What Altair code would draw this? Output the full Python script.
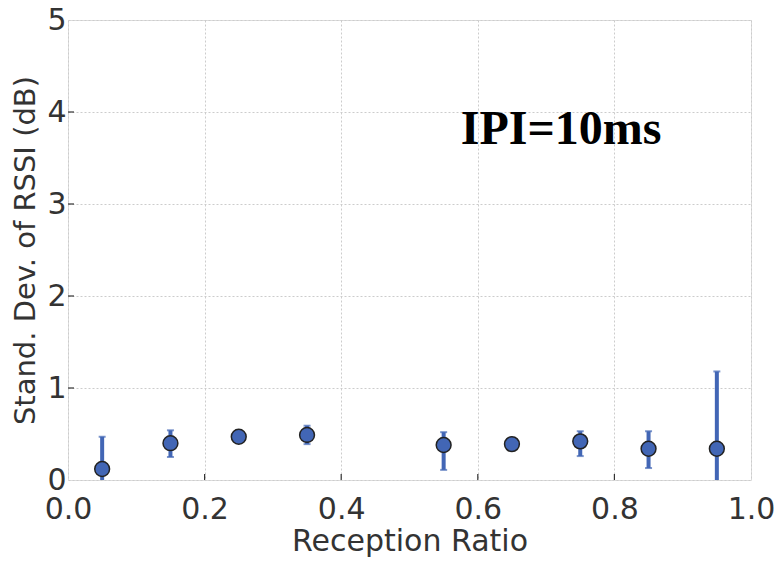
import altair as alt
import pandas as pd

# Reception-ratio bins and the RSSI standard deviation measured in each
ratio = [0.05, 0.15, 0.25, 0.35, 0.55, 0.65, 0.75, 0.85, 0.95]
std_mean = [0.12, 0.40, 0.47, 0.49, 0.38, 0.39, 0.42, 0.34, 0.34]
err_low = [-0.23, 0.25, 0.43, 0.39, 0.11, 0.35, 0.26, 0.13, -0.50]
err_high = [0.47, 0.54, 0.51, 0.59, 0.52, 0.43, 0.53, 0.53, 1.18]

x_ticks = [0.0, 0.2, 0.4, 0.6, 0.8, 1.0]
y_ticks = [0, 1, 2, 3, 4, 5]

df = pd.DataFrame({"ratio": ratio, "std": std_mean, "lo": err_low, "hi": err_high})
xt = pd.DataFrame({"t": x_ticks[1:-1]})
yt = pd.DataFrame({"t": y_ticks[1:-1]})

BLUE = "#4266b5"
INK = "#333333"

x_scale = alt.Scale(domain=[0, 1], nice=False)
y_scale = alt.Scale(domain=[0, 5], nice=False)

x_enc = alt.X(
    "ratio:Q", scale=x_scale, title="Reception Ratio",
    axis=alt.Axis(values=x_ticks, format=".1f", grid=True, gridDash=[2, 2],
                  gridColor="#cccccc", ticks=False, domain=False, labelFlush=False,
                  labelFontSize=30, labelColor=INK, labelPadding=14,
                  titleFontSize=30, titleColor=INK, titleFontWeight="normal",
                  titlePadding=2, labelFont="DejaVu Sans", titleFont="DejaVu Sans"),
)
y_axis = alt.Axis(values=y_ticks, format="d", grid=True, gridDash=[2, 2],
                  gridColor="#cccccc", ticks=False, domain=False, labelFlush=False,
                  labelFontSize=30, labelColor=INK, labelPadding=2,
                  titleFontSize=29, titleColor=INK, titleFontWeight="normal",
                  titlePadding=6, labelFont="DejaVu Sans", titleFont="DejaVu Sans")

base = alt.Chart(df)

bars = base.mark_rule(color=BLUE, strokeWidth=4, clip=True).encode(
    x=x_enc,
    y=alt.Y("lo:Q", scale=y_scale, title="Stand. Dev. of RSSI (dB)", axis=y_axis),
    y2="hi:Q",
)
cap_hi = base.mark_tick(color=BLUE, orient="horizontal", size=7, thickness=2, clip=True).encode(
    x="ratio:Q", y="hi:Q")
cap_lo = base.mark_tick(color=BLUE, orient="horizontal", size=7, thickness=2, clip=True).encode(
    x="ratio:Q", y="lo:Q")
dots = base.mark_point(filled=True, shape="circle", size=220, color=BLUE,
                       stroke="#222222", strokeWidth=1.5, opacity=1).encode(
    x="ratio:Q", y="std:Q")

# inward tick marks on the bottom and left spines
xtick = alt.Chart(xt).mark_rule(color=INK, strokeWidth=1.2).encode(
    x=alt.X("t:Q", scale=x_scale), y=alt.value(460), y2=alt.value(454))
ytick = alt.Chart(yt).mark_rule(color=INK, strokeWidth=1.2).encode(
    y=alt.Y("t:Q", scale=y_scale), x=alt.value(0), x2=alt.value(6))

label = alt.Chart(pd.DataFrame({"x": [0.575], "y": [3.65], "s": ["IPI=10ms"]})).mark_text(
    align="left", baseline="alphabetic", font="Liberation Serif", fontWeight="bold",
    fontSize=48, color="black").encode(
    x=alt.X("x:Q", scale=x_scale), y=alt.Y("y:Q", scale=y_scale), text="s:N")

chart = alt.layer(bars, cap_hi, cap_lo, dots, xtick, ytick, label).properties(
    width=683, height=460,
    autosize=alt.AutoSizeParams(type="none"),
    padding={"left": 68, "top": 20, "right": 31, "bottom": 84},
).configure_view(stroke="#444444", strokeWidth=1.5).configure(background="white")

chart.save("out.html", embed_options={"renderer": "svg", "actions": False})
